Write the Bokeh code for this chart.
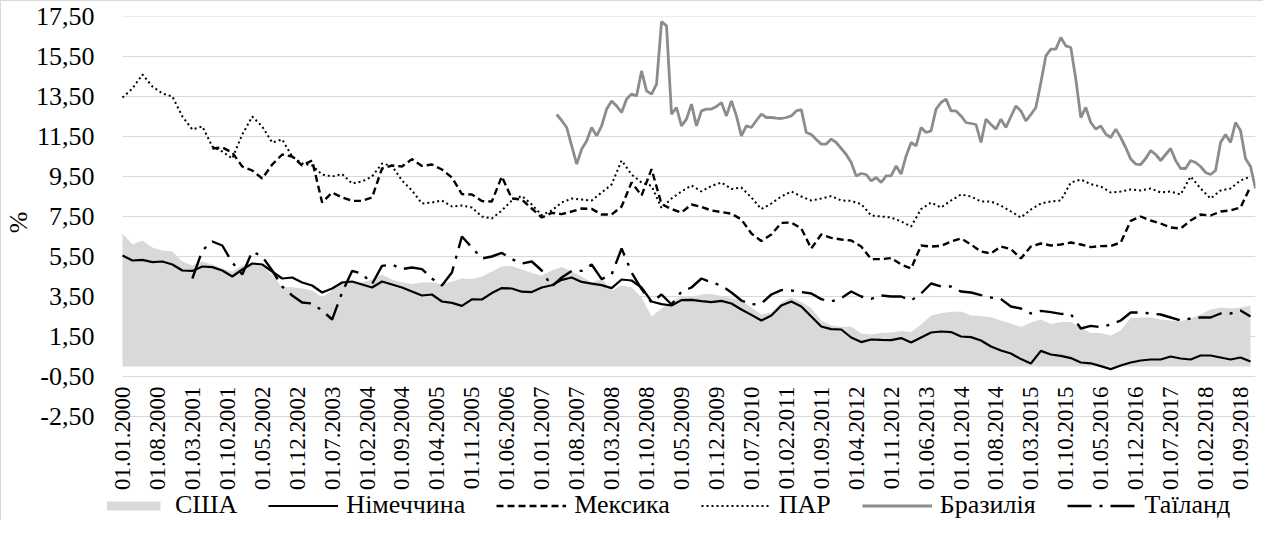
import math
from bokeh.plotting import figure
from bokeh.models import Range1d, FixedTicker, Legend, LegendItem, Title
from bokeh.core.properties import value
from bokeh.embed import file_html
from bokeh.resources import INLINE

# month index 0 = 01.2000
months2 = list(range(0, 228, 2))
usa = [6.65, 6.1, 6.3, 5.95, 5.8, 5.75, 5.25, 5.05, 5.25, 5.1, 4.9, 4.75, 5.05, 5.1, 5.0, 4.6, 3.95,
       3.98, 3.9, 3.8, 3.45, 3.8, 4.3, 4.28, 4.2, 4.35, 4.6, 4.35, 4.2, 4.12, 4.2, 4.2, 4.12, 4.25,
       4.4, 4.38, 4.5, 4.75, 5.0, 5.03, 4.85, 4.68, 4.55, 4.8, 4.97, 4.75, 4.5, 4.2, 4.37, 3.8, 4.05,
       3.95, 3.45, 2.5, 2.9, 3.25, 3.5, 3.47, 3.6, 3.62, 3.52, 3.43, 3.3, 2.95, 2.6, 2.7, 3.2, 3.45,
       3.22, 2.93, 2.3, 2.05, 1.97, 2.0, 1.65, 1.6, 1.68, 1.7, 1.77, 1.72, 2.1, 2.55, 2.68, 2.72, 2.75,
       2.55, 2.53, 2.46, 2.3, 2.15, 1.98, 2.2, 2.35, 2.13, 2.22, 2.22, 1.95, 1.68, 1.67, 1.55, 1.8, 2.43,
       2.45, 2.45, 2.35, 2.3, 2.25, 2.4, 2.6, 2.85, 2.95, 2.9, 2.95, 3.05]
germany = [5.55, 5.3, 5.33, 5.22, 5.25, 5.1, 4.8, 4.78, 5.0, 4.97, 4.8, 4.5, 4.85, 5.15, 5.1, 4.75, 4.4,
           4.45, 4.2, 4.05, 3.7, 3.9, 4.2, 4.25, 4.1, 3.95, 4.25, 4.1, 3.95, 3.75, 3.55, 3.6, 3.25, 3.18,
           3.03, 3.36, 3.35, 3.67, 3.92, 3.9, 3.74, 3.72, 3.95, 4.06, 4.33, 4.45, 4.23, 4.14, 4.07, 3.92, 4.35,
           4.3, 3.95, 3.25, 3.12, 3.05, 3.32, 3.33, 3.27, 3.22, 3.28, 3.15, 2.85, 2.58, 2.3, 2.55, 3.05, 3.25,
           3.0, 2.5, 2.0, 1.87, 1.85, 1.45, 1.22, 1.35, 1.33, 1.32, 1.42, 1.2, 1.45, 1.7, 1.75, 1.72, 1.5,
           1.47, 1.3, 1.0, 0.8, 0.65, 0.37, 0.15, 0.78, 0.6, 0.53, 0.42, 0.2, 0.16, 0.02, -0.13, 0.05, 0.2,
           0.3, 0.35, 0.35, 0.5, 0.4, 0.35, 0.55, 0.55, 0.45, 0.35, 0.45, 0.25]
par = [13.45, 13.9, 14.6, 14.0, 13.65, 13.5, 12.5, 11.85, 12.0, 11.0, 10.75, 10.4, 11.6, 12.5, 12.0, 11.2, 11.35,
       10.5, 10.15, 10.05, 9.6, 9.5, 9.62, 9.15, 9.25, 9.5, 10.15, 10.03, 9.3, 8.8, 8.15, 8.2, 8.3, 8.0,
       8.05, 7.95, 7.5, 7.4, 7.8, 8.3, 8.53, 8.1, 7.57, 7.8, 8.2, 8.4, 8.35, 8.3, 8.7, 9.1, 10.3,
       9.6, 9.2, 9.03, 7.92, 8.4, 8.75, 9.05, 8.75, 9.03, 9.2, 8.88, 8.95, 8.45, 7.87, 8.15, 8.5, 8.75,
       8.5, 8.3, 8.4, 8.52, 8.3, 8.28, 8.12, 7.55, 7.5, 7.45, 7.25, 7.0, 7.87, 8.2, 7.95, 8.3, 8.6,
       8.5, 8.25, 8.25, 8.05, 7.75, 7.45, 7.85, 8.15, 8.25, 8.3, 9.2, 9.35, 9.12, 9.0, 8.7, 8.75, 8.85,
       8.8, 8.9, 8.7, 8.75, 8.6, 9.5, 8.9, 8.4, 8.8, 8.9, 9.3, 9.5]
mexico_months = list(range(18, 228, 2))
mexico = [10.9, 10.95, 10.7, 10.0, 9.8, 9.4, 10.1, 10.6,
          10.5, 10.05, 10.3, 8.2, 8.7, 8.45, 8.28, 8.28, 8.45, 9.9, 10.05, 10.0, 10.37, 10.03, 10.1, 9.85, 9.45,
          8.62, 8.6, 8.27, 8.25, 9.5, 8.4, 8.35, 7.9, 7.45, 7.68, 7.62, 7.75, 7.9, 7.88, 7.6, 7.6, 8.0,
          9.2, 8.55, 9.87, 8.12, 7.87, 7.7, 8.1, 7.98, 7.8, 7.72, 7.64, 7.35, 6.65, 6.27, 6.6, 7.18, 7.2,
          6.9, 5.9, 6.6, 6.43, 6.35, 6.3, 6.0, 5.37, 5.37, 5.42, 5.1, 4.9, 6.05, 6.0, 6.03, 6.25, 6.4,
          6.1, 5.75, 5.65, 6.0, 5.87, 5.4, 6.0, 6.15, 6.05, 6.1, 6.2, 6.1, 5.97, 6.02, 6.03, 6.2, 7.28,
          7.5, 7.3, 7.15, 6.95, 6.9, 7.3, 7.6, 7.55, 7.75, 7.8, 7.95, 9.0]
thai_months = list(range(14, 228, 2))
thailand = [4.4, 5.8, 6.25, 6.05, 5.2, 4.6, 5.75, 5.5, 4.8, 4.0,
            3.55, 3.2, 3.15, 2.8, 2.35, 3.7, 4.78, 4.65, 4.12, 5.03, 5.1, 4.87, 4.95, 4.87, 4.4, 4.05, 4.7,
            6.5, 5.95, 5.4, 5.5, 5.68, 5.37, 5.15, 5.25, 4.8, 4.0, 4.45, 4.78, 4.78, 5.1, 4.37, 4.6, 5.9,
            4.7, 3.87, 3.2, 3.6, 3.1, 3.75, 3.95, 4.4, 4.2, 4.05, 3.7, 3.3, 3.1, 3.15, 3.6, 3.82, 3.8,
            3.72, 3.65, 3.37, 3.25, 3.42, 3.75, 3.5, 3.38, 3.55, 3.5, 3.5, 3.3, 3.65, 4.15, 4.0, 4.0, 3.75,
            3.7, 3.57, 3.45, 3.37, 3.0, 2.9, 2.65, 2.78, 2.72, 2.63, 2.62, 1.9, 2.03, 1.97, 2.1, 2.3, 2.7,
            2.7, 2.65, 2.6, 2.45, 2.3, 2.4, 2.45, 2.45, 2.65, 2.65, 2.8, 2.5]
brazil_months = list(range(87, 228))
brazil = [12.6, 12.3, 11.95, 11.03, 10.12, 10.87, 11.28, 11.95, 11.53, 12.03, 12.87, 13.28, 13.03, 12.7, 13.37,
          13.62, 13.53, 14.78, 13.78, 13.62, 14.12, 17.25, 17.03, 12.62, 12.95, 12.03, 12.37, 13.12, 12.03, 12.78,
          12.87, 12.87, 13.0, 13.2, 12.53, 13.28, 12.53, 11.53, 12.03, 11.95, 12.3, 12.62, 12.45, 12.45, 12.42,
          12.4, 12.45, 12.53, 12.78,
          12.85, 11.7, 11.6, 11.35, 11.12, 11.12, 11.37, 11.2, 10.9, 10.6, 10.2, 9.53, 9.65, 9.6, 9.28, 9.45,
          9.2, 9.53, 9.53, 10.03, 9.62, 10.53, 11.2, 11.03, 11.95, 11.7, 11.78, 12.87, 13.2, 13.37, 12.78,
          12.78, 12.53, 12.2,
          12.15, 12.1, 11.2, 12.37, 12.1, 11.87, 12.37, 11.95, 12.5, 13.03, 12.78, 12.28, 12.6, 12.95, 14.2,
          15.53, 15.87, 15.87, 16.45, 16.03, 15.95, 14.37, 12.45, 12.95, 12.2, 11.87, 12.03, 11.62, 11.45,
          11.87, 11.45, 10.95, 10.37, 10.12,
          10.1, 10.4, 10.8, 10.6, 10.3, 10.6, 10.9, 10.3, 9.9, 9.9, 10.3, 10.2, 10.0, 9.7, 9.6, 9.8, 11.2,
          11.6, 11.2, 12.2, 11.8, 10.4, 10.0, 8.9]

tick_months = list(range(0, 225, 7))
tick_labels = ["01.01.2000", "01.08.2000", "01.03.2001", "01.10.2001", "01.05.2002", "01.12.2002",
               "01.07.2003", "01.02.2004", "01.09.2004", "01.04.2005", "01.11.2005", "01.06.2006",
               "01.01.2007", "01.08.2007", "01.03.2008", "01.10.2008", "01.05.2009", "01.12.2009",
               "01.07.2010", "01.02.2011", "01.09.2011", "01.04.2012", "01.11.2012", "01.06.2013",
               "01.01.2014", "01.08.2014", "01.03.2015", "01.10.2015", "01.05.2016", "01.12.2016",
               "01.07.2017", "01.02.2018", "01.09.2018"]
y_ticks = [-2.5, -0.5, 1.5, 3.5, 5.5, 7.5, 9.5, 11.5, 13.5, 15.5, 17.5]
y_labels = ["-2,50", "-0,50", "1,50", "3,50", "5,50", "7,50", "9,50", "11,50", "13,50", "15,50", "17,50"]
series_names = ["США", "Німеччина", "Мексика", "ПАР", "Бразилія", "Таїланд"]
y_title = "%"

SERIF = "Liberation Serif"
first_month, last_month = 0, 227

p = figure(width=1263, height=520, output_backend="svg", toolbar_location=None,
           x_range=Range1d(first_month - 3, last_month), y_range=Range1d(-7.75, 17.5),
           x_axis_location=None, min_border_left=104, min_border_right=9,
           min_border_top=15, min_border_bottom=0,
           styles={"border-left": "1px solid #d9d9d9", "border-top": "1px solid #d9d9d9"})
p.outline_line_color = None
p.background_fill_color = "white"
p.border_fill_color = "white"
p.xgrid.visible = False
p.ygrid.visible = False

ax = p.yaxis[0]
ax.ticker = FixedTicker(ticks=y_ticks)
ax.major_label_overrides = dict(zip(y_ticks, y_labels))
ax.axis_line_color = None
ax.major_tick_line_color = None
ax.minor_tick_line_color = None
ax.major_tick_out = 0
ax.major_tick_in = 0
ax.minor_tick_out = 0
ax.major_label_standoff = 13
ax.major_label_text_font = SERIF
ax.major_label_text_font_size = "26px"
ax.major_label_text_color = "black"

p.add_layout(Title(text=y_title, align="right", offset=195, vertical_align="bottom",
                   standoff=0, text_font=SERIF, text_font_size="26px",
                   text_font_style="normal", text_color="black"), "left")

# horizontal gridlines spanning the category extent
grid = p.segment(x0=[first_month] * len(y_ticks), x1=[last_month] * len(y_ticks),
                 y0=y_ticks, y1=y_ticks, line_color="#d9d9d9", line_width=1)
grid.level = "underlay"

r_us = p.varea(x=months2, y1=0, y2=usa, fill_color="#d9d9d9")
r_de = p.line(months2, germany, line_color="black", line_width=2.2)
r_mx = p.line(mexico_months, mexico, line_color="black", line_width=2.4, line_dash="7 4")
r_za = p.line(months2, par, line_color="black", line_width=2, line_dash="2 3")
r_br = p.line(brazil_months, brazil, line_color="#8c8c8c", line_width=2.8)
r_th = p.line(thai_months, thailand, line_color="black", line_width=2.4, line_dash="24 8 3 8")

p.text(x=tick_months, y=[-1.0] * len(tick_months), text=tick_labels, angle=math.pi / 2,
       text_align="right", text_baseline="middle", text_font=value(SERIF),
       text_font_size="23px", text_color="black")

legend = Legend(items=[LegendItem(label=n, renderers=[r]) for n, r in
                       zip(series_names, [r_us, r_de, r_mx, r_za, r_br, r_th])],
                orientation="horizontal", location=(-10, 1), glyph_width=70, glyph_height=11,
                label_standoff=8, spacing=31, padding=0, margin=0,
                background_fill_alpha=0, border_line_color=None,
                label_text_font=SERIF, label_text_font_size="26px", label_text_color="black")
p.add_layout(legend)

open("out.html", "w").write(file_html(p, INLINE))
